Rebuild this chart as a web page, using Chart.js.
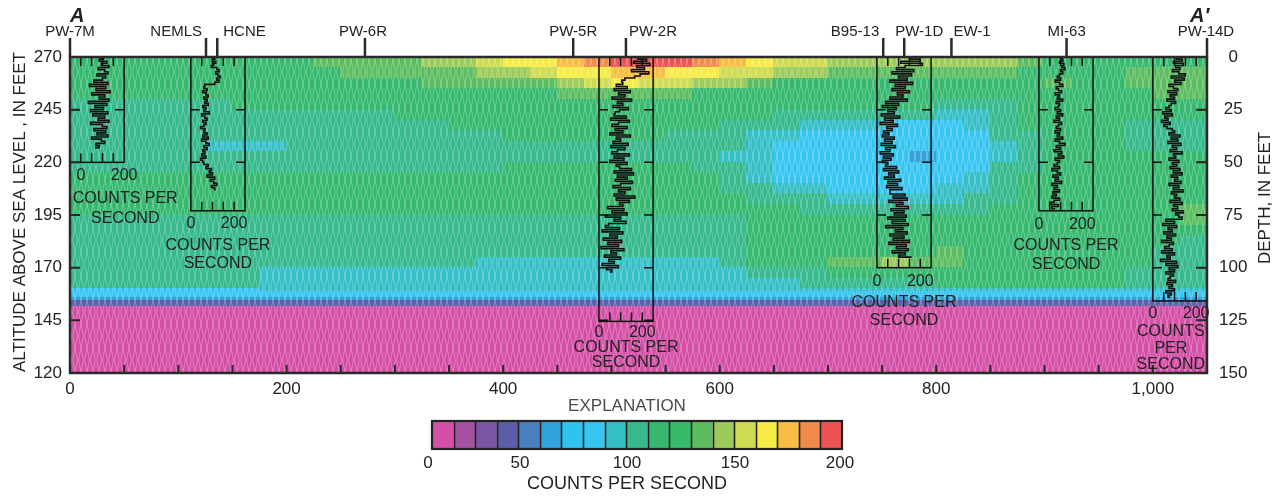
<!DOCTYPE html>
<html>
<head>
<meta charset="utf-8">
<title>Gamma-log section A–A′</title>
<script src="https://cdn.jsdelivr.net/npm/chart.js@4.4.1/dist/chart.umd.min.js"></script>
<style>
html,body{margin:0;padding:0;background:#ffffff;overflow:hidden;}
#wrap{position:relative;width:1281px;height:498px;}
canvas{display:block;}
</style>
</head>
<body>
<div id="wrap"><canvas id="chart" width="1281" height="498"></canvas></div>
<script>
// ===================== DATA =====================
// Distance along section (feet) – edges of the gridded columns
const sectionEdgesFt = [0,25,50,75,100,125,150,175,200,225,250,275,300,325,350,375,400,425,450,475,500,525,550,575,600,625,650,675,700,725,750,775,800,825,850,875,900,925,950,975,1000,1025,1050];
// Altitude (feet above sea level) – edges of gridded rows
const gridAltEdges = [270,265,260,255,250,245,240,235,230,225,220,215,210,205,200,195,190,185,180,175,170,165,160,158.5];
// Gamma counts per second in each column (top row first)
const gammaColumns = [
 [110,110,110,110,100,100,100,100,100,100,100,110,110,110,110,100,100,100,100,100,100,100,79],
 [110,110,110,110,100,100,100,100,100,100,100,110,110,110,110,100,100,100,100,100,100,100,79],
 [110,110,110,110,100,100,100,100,100,100,100,110,110,110,110,100,100,100,100,100,100,100,79],
 [110,110,110,110,100,100,100,100,100,100,100,110,110,110,110,100,100,100,100,100,100,100,79],
 [110,110,110,110,100,100,100,100,100,100,100,110,110,110,110,100,100,100,100,100,100,100,79],
 [110,110,110,110,100,100,100,100,89,100,100,110,110,110,110,100,100,100,100,100,100,100,79],
 [110,110,110,110,110,100,100,100,89,100,100,110,110,110,110,100,100,100,100,100,100,100,79],
 [110,110,110,110,110,100,100,100,89,100,100,110,110,110,110,100,100,100,100,100,89,89,89],
 [110,110,110,110,110,100,100,100,100,100,100,110,110,110,110,100,100,100,100,100,89,89,89],
 [131,110,110,110,110,100,100,100,100,100,100,110,110,110,110,100,100,100,100,100,89,89,89],
 [131,131,110,110,110,100,100,100,100,100,100,110,110,110,110,100,100,100,100,100,89,89,89],
 [131,131,110,110,110,100,100,100,100,100,100,110,110,110,110,100,100,100,100,100,89,89,89],
 [131,131,110,110,110,110,100,100,100,100,100,110,110,110,110,100,100,100,100,100,89,89,89],
 [142,131,131,110,110,110,100,100,100,100,100,110,110,110,110,100,100,100,100,100,89,89,89],
 [142,131,131,110,110,110,110,100,100,100,100,110,110,110,110,100,100,100,100,100,89,89,89],
 [152,142,131,110,110,110,110,100,100,100,100,110,110,110,110,100,100,100,100,89,89,89,89],
 [163,142,131,110,110,110,110,110,100,100,110,110,110,110,110,100,100,100,100,89,89,89,89],
 [163,152,131,110,110,110,110,110,100,100,110,110,110,110,110,100,100,100,100,89,89,89,89],
 [173,163,142,131,110,110,110,110,100,100,110,110,110,110,110,100,100,100,100,89,89,89,89],
 [184,163,152,131,110,110,110,110,100,100,110,110,110,110,110,100,100,100,100,89,89,89,89],
 [195,173,163,131,110,110,110,110,100,100,110,110,110,110,110,100,100,100,100,89,89,89,89],
 [195,173,152,131,110,110,110,110,100,100,110,110,110,110,110,100,100,100,100,89,89,89,89],
 [195,163,152,131,110,110,110,100,100,100,110,110,110,110,110,100,100,100,100,89,89,89,89],
 [184,163,142,110,110,110,110,100,100,100,100,110,110,110,110,100,100,100,100,89,89,89,89],
 [173,152,142,110,110,110,100,100,100,89,100,100,100,110,110,100,100,100,100,100,89,89,89],
 [163,152,131,110,110,110,100,89,89,89,89,89,100,100,110,110,110,110,110,110,100,89,89],
 [152,142,110,110,110,100,100,89,79,79,79,79,89,100,110,110,110,110,110,110,100,89,89],
 [152,142,110,110,110,100,89,79,79,79,79,79,89,100,100,110,110,110,110,110,100,100,89],
 [142,131,110,110,110,100,89,79,79,79,79,79,79,89,100,110,110,110,110,131,110,100,89],
 [142,131,110,110,110,100,89,79,79,79,79,79,79,89,100,110,110,110,110,131,110,100,89],
 [142,131,110,110,110,100,79,79,79,79,79,79,79,89,100,110,110,110,110,142,110,100,89],
 [142,131,110,110,110,100,79,79,79,58,79,79,79,89,100,110,110,110,110,131,110,100,89],
 [142,131,110,110,100,89,79,79,79,79,79,79,89,89,100,110,110,110,131,131,110,110,89],
 [142,131,110,110,100,89,89,79,79,79,79,89,89,100,100,110,110,110,110,110,110,110,89],
 [142,131,110,110,100,100,100,100,89,89,100,100,100,100,110,110,110,110,110,110,110,110,89],
 [131,110,110,110,110,110,110,100,100,100,100,110,110,110,110,110,110,110,110,110,110,110,89],
 [110,110,131,110,110,110,110,110,110,110,110,110,110,110,110,110,110,110,110,110,110,110,89],
 [110,110,110,110,110,110,110,110,110,110,110,110,110,110,110,110,110,110,110,110,110,110,89],
 [110,110,110,110,110,110,110,110,110,110,110,110,110,110,110,110,110,110,110,110,110,110,89],
 [110,131,131,110,110,110,100,100,100,110,110,110,110,110,110,110,110,110,110,110,100,100,89],
 [110,131,131,131,110,110,100,100,100,110,110,110,110,110,110,110,110,110,100,100,100,100,89],
 [110,131,131,131,110,110,100,100,100,110,110,110,110,110,131,131,110,100,100,100,100,100,89]
];
// Continuous basal layers (same along whole section)
const baseLayerAltEdges = [158.5, 156, 154.5, 151.5, 120];
const baseLayerCps = [79, 58, 37, 5];

// Explanation classes (19 classes spanning 0–200 counts per second)
const classColors = ['#d44fa6','#a4519f','#7b55a5','#5c5ea9','#4a7fc0','#32a3da','#30c3ef','#35c5f0','#34bfc7','#35b98d','#36b96f','#38ba6b','#5bbd5f','#9ccb5a','#cfdb51','#f7eb46','#f8bd42','#f08b4a','#ec5454'];
const cpsMax = 200;
const legendTicks = [0, 50, 100, 150, 200];

// Axes
const altTicks = [120, 145, 170, 195, 220, 245, 270];
const depthTicks = [0, 25, 50, 75, 100, 125, 150];

// Wells along the section
const wellNames = ['PW-7M','NEMLS','HCNE','PW-6R','PW-5R','PW-2R','B95-13','PW-1D','EW-1','MI-63','PW-14D'];
const wellFt = [0, 125.6, 136, 272.4, 464.7, 513.4, 751, 770.4, 814, 920.3, 1050];

// Gamma logs (counts per second, sampled every foot from the top altitude)
const logNames = ['PW-7M','NEMLS','PW-2R','PW-1D','MI-63','PW-14D'];
const logOriginFt = [10, 111.6, 488.5, 745.2, 894.8, 1000];
const logTopAlt = [270, 270, 270, 270, 270, 270];
const logStepFt = 1;
const logBottomAlt = [220, 197, 144.5, 170, 197, 154.2];
const logBoxCps = [[-50,200],[0,250],[0,250],[0,250],[0,250],[0,250]];
const logBoxTickCps = [[0,50,100,150],[50,100,150,200],[50,100,150,200],[50,100,150,200],[50,100,150,200],[50,100,150,200]];
const logScaleLabels = [0, 200];

const pw7mCps = [105,85,120,95,130,80,110,125,75,115,100,
 60,125,40,115,70,135,50,110,85,130,35,120,65,105,45,
 125,55,110,80,130,45,100,120,60,115,75,125,50,95,110,70,85,65];
const nemlsCps = [110,100,115,105,95,
 120,130,115,125,135,120,130,110,
 65,60,75,55,70,80,60,75,
 65,80,55,70,60,85,50,65,75,55,70,60,45,65,
 60,75,55,80,50,70,85,60,75,55,65,50,70,45,55,
 60,80,70,95,85,100,75,110,90,105,120,95,110,115];
const pw2rCps = [180,220,160,235,175,210,150,230,190,165,
 120,105,110,
 80,130,70,145,90,120,60,150,85,110,65,135,95,75,
 70,125,55,140,90,60,130,75,110,50,145,80,100,65,135,55,120,85,60,140,70,115,50,130,80,
 95,150,70,160,85,130,75,155,100,65,145,90,120,70,165,80,140,95,110,
 40,115,60,130,30,100,70,125,45,
 30,95,15,110,50,85,20,105,40,90,10,115,55,80,25,100,45,70,15,90,35,60,50];
const pw1dCps = [150,200,110,210,130,
 90,170,70,160,100,140,60,165,85,130,70,150,95,120,60,140,
 40,100,25,90,50,80,20,105,35,75,15,95,45,70,30,
 55,25,80,35,70,20,85,40,60,15,75,30,65,25,50,
 40,90,30,100,55,80,35,110,50,95,45,115,60,
 60,130,75,140,55,120,90,145,65,125,80,135,
 50,130,70,145,40,120,85,140,60,125,75,150,55,135,90,145,70,130,100,160];
const mi63Cps = [100,110,95,115,105,120,100,110,95,
 85,100,75,95,110,80,90,105,75,95,85,110,80,95,
 90,75,100,85,110,80,95,70,105,90,80,100,75,95,
 85,110,75,95,120,80,100,70,105,90,115,75,95,85,
 70,95,60,85,100,65,90,75,105,60,85,70,95,65,
 80,60,95,70,55,90,60,75];
const pw14dCps = [110,135,95,140,105,125,90,
 120,150,85,145,100,130,75,
 95,115,70,110,80,100,65,105,85,75,
 60,85,45,90,55,70,40,80,50,65,90,
 100,75,125,85,115,70,130,90,110,80,135,95,105,75,120,90,
 110,80,125,95,135,85,115,100,130,75,120,95,140,85,110,100,125,80,135,95,115,90,140,105,120,135,
 60,100,45,110,70,90,50,105,65,85,40,95,75,
 55,90,40,100,65,80,35,110,60,115,
 75,100,60,95,80,70,105,65,90,75,100,60,85,70,80];
const logCps = [pw7mCps, nemlsCps, pw2rCps, pw1dCps, mi63Cps, pw14dCps];

// ===================== STYLE / LAYOUT =====================
const STYLE = {
  font: "'Liberation Sans', Arial, Helvetica, sans-serif",
  ink: '#222222',
  frame: '#2a2a2a',
  logInk: '#111111',
  ftPerCps: 0.2,   // width of log boxes: 250 counts per second = 50 ft
  wellLabel: [
    {align:'center',dx:0},{align:'right',dx:-4},{align:'left',dx:6},{align:'center',dx:-2},
    {align:'center',dx:0},{align:'left',dx:3},{align:'right',dx:-4},{align:'center',dx:15},
    {align:'left',dx:2},{align:'center',dx:0},{align:'center',dx:-1}
  ],
  boxText: [
    {centerCps:205, scaleDy:13, lines:[['COUNTS PER',36],['SECOND',56]]},
    {centerCps:125, scaleDy:13, lines:[['COUNTS PER',35],['SECOND',53]]},
    {centerCps:125, scaleDy:11, lines:[['COUNTS PER',26],['SECOND',41]]},
    {centerCps:125, scaleDy:14, lines:[['COUNTS PER',35],['SECOND',53]]},
    {centerCps:125, scaleDy:14, lines:[['COUNTS PER',35],['SECOND',54]]},
    {centerCps:83,  scaleDy:13, lines:[['COUNTS',31],['PER',48],['SECOND',64]]}
  ],
  legend: {x0:432, x1:842, y0:421, y1:449, labelX:[428,520,627,735,840], labelY:463, titleY:406, unitY:484, cx:627}
};

function colorFor(v) {
  const k = Math.max(0, Math.min(classColors.length - 1, Math.floor(v * classColors.length / cpsMax)));
  return classColors[k];
}

let hatchCanvas = null;
function hatch(ctx) {
  if (!hatchCanvas) {
    hatchCanvas = document.createElement('canvas');
    hatchCanvas.width = 6; hatchCanvas.height = 24;
    const g = hatchCanvas.getContext('2d');
    g.strokeStyle = 'rgba(255,255,255,0.30)';
    g.lineWidth = 0.9;
    g.beginPath();
    g.moveTo(0.5, 0); g.lineTo(3, 12); g.lineTo(0.5, 24);
    g.moveTo(5.5, 0); g.lineTo(3, 12); g.lineTo(5.5, 24);
    g.stroke();
  }
  return ctx.createPattern(hatchCanvas, 'repeat');
}

function text(ctx, s, x, y, size, align, opt) {
  opt = opt || {};
  ctx.font = (opt.style || 'normal') + ' ' + (opt.weight || 'normal') + ' ' + size + 'px ' + STYLE.font;
  ctx.textAlign = align || 'center';
  ctx.textBaseline = opt.baseline || 'middle';
  ctx.fillStyle = opt.color || STYLE.ink;
  ctx.fillText(s, x, y);
}

const sectionPlugin = {
  id: 'section',
  beforeDatasetsDraw(chart) {
    const {ctx, chartArea: a} = chart;
    const xs = chart.scales.x, ys = chart.scales.y;
    ctx.save();
    ctx.beginPath();
    ctx.rect(a.left, a.top, a.right - a.left, a.bottom - a.top);
    ctx.clip();
    // gridded gamma field
    gammaColumns.forEach((col, i) => {
      const x0 = Math.floor(xs.getPixelForValue(sectionEdgesFt[i]));
      const x1 = Math.ceil(xs.getPixelForValue(sectionEdgesFt[i + 1]));
      col.forEach((v, j) => {
        const y0 = Math.floor(ys.getPixelForValue(gridAltEdges[j]));
        const y1 = Math.ceil(ys.getPixelForValue(gridAltEdges[j + 1]));
        ctx.fillStyle = colorFor(v);
        ctx.fillRect(x0, y0, x1 - x0 + 1, y1 - y0 + 1);
      });
    });
    // basal layers
    baseLayerCps.forEach((v, k) => {
      const y0 = Math.floor(ys.getPixelForValue(baseLayerAltEdges[k]));
      const y1 = Math.ceil(ys.getPixelForValue(baseLayerAltEdges[k + 1]));
      ctx.fillStyle = colorFor(v);
      ctx.fillRect(a.left, y0, a.right - a.left, y1 - y0 + 1);
    });
    // texture
    ctx.fillStyle = hatch(ctx);
    ctx.fillRect(a.left, a.top, a.right - a.left, a.bottom - a.top);
    ctx.restore();

    // log boxes
    ctx.save();
    ctx.strokeStyle = STYLE.logInk;
    ctx.lineWidth = 1.5;
    logNames.forEach((name, k) => {
      const xl = xs.getPixelForValue(logOriginFt[k] + logBoxCps[k][0] * STYLE.ftPerCps);
      const xr = xs.getPixelForValue(logOriginFt[k] + logBoxCps[k][1] * STYLE.ftPerCps);
      const yt = ys.getPixelForValue(logTopAlt[k]);
      const yb = ys.getPixelForValue(logBottomAlt[k]);
      ctx.strokeRect(xl, yt, xr - xl, yb - yt);
      ctx.beginPath();
      logBoxTickCps[k].forEach(c => {
        const px = xs.getPixelForValue(logOriginFt[k] + c * STYLE.ftPerCps);
        ctx.moveTo(px, yt); ctx.lineTo(px, yt + 9);
        ctx.moveTo(px, yb); ctx.lineTo(px, yb - 9);
      });
      altTicks.forEach(al => {
        if (al < logTopAlt[k] && al > logBottomAlt[k]) {
          const py = ys.getPixelForValue(al);
          ctx.moveTo(xl, py); ctx.lineTo(xl + 9, py);
          ctx.moveTo(xr, py); ctx.lineTo(xr - 9, py);
        }
      });
      ctx.stroke();
    });
    ctx.restore();
  },
  afterDatasetsDraw(chart) {
    const {ctx, chartArea: a} = chart;
    const xs = chart.scales.x, ys = chart.scales.y, yd = chart.scales.yDepth;
    ctx.save();
    // frame
    ctx.strokeStyle = STYLE.frame;
    ctx.lineWidth = 2.5;
    ctx.strokeRect(a.left, a.top, a.right - a.left, a.bottom - a.top);
    // inward ticks
    ctx.lineWidth = 2;
    ctx.beginPath();
    for (let f = 50; f < 1050; f += 50) {
      const px = xs.getPixelForValue(f);
      ctx.moveTo(px, a.bottom); ctx.lineTo(px, a.bottom - 8);
    }
    altTicks.forEach(al => {
      const py = ys.getPixelForValue(al);
      ctx.moveTo(a.left, py); ctx.lineTo(a.left + 10, py);
    });
    depthTicks.forEach(d => {
      const py = yd.getPixelForValue(d);
      ctx.moveTo(a.right, py); ctx.lineTo(a.right - 11, py);
    });
    ctx.stroke();
    // wells
    ctx.lineWidth = 2.5;
    ctx.beginPath();
    wellFt.forEach(f => {
      const px = xs.getPixelForValue(f);
      ctx.moveTo(px, a.top - 19); ctx.lineTo(px, a.top);
    });
    ctx.stroke();
    wellNames.forEach((n, i) => {
      const px = xs.getPixelForValue(wellFt[i]) + STYLE.wellLabel[i].dx;
      text(ctx, n, px, 36, 15, STYLE.wellLabel[i].align, {baseline:'alphabetic'});
    });
    text(ctx, 'A', a.left, 22, 20, 'left', {baseline:'alphabetic', weight:'bold', style:'italic'});
    text(ctx, 'A\u2032', 1190, 22, 20, 'left', {baseline:'alphabetic', weight:'bold', style:'italic'});

    // log box captions
    logNames.forEach((name, k) => {
      const yb = ys.getPixelForValue(logBottomAlt[k]);
      const st = STYLE.boxText[k];
      logScaleLabels.forEach(c => {
        text(ctx, String(c), xs.getPixelForValue(logOriginFt[k] + c * STYLE.ftPerCps), yb + st.scaleDy, 16, 'center');
      });
      const cx = xs.getPixelForValue(logOriginFt[k] + st.centerCps * STYLE.ftPerCps);
      st.lines.forEach(([s, dy]) => text(ctx, s, cx, yb + dy, 16, 'center'));
    });

    // axis titles
    ctx.save();
    ctx.translate(20, 212); ctx.rotate(-Math.PI / 2);
    text(ctx, 'ALTITUDE ABOVE SEA LEVEL , IN FEET', 0, 0, 17, 'center');
    ctx.restore();
    ctx.save();
    ctx.translate(1265, 198); ctx.rotate(-Math.PI / 2);
    text(ctx, 'DEPTH, IN FEET', 0, 0, 17, 'center');
    ctx.restore();

    // explanation (colour bar)
    const L = STYLE.legend;
    const n = classColors.length;
    const w = (L.x1 - L.x0) / n;
    classColors.forEach((c, k) => {
      ctx.fillStyle = c;
      ctx.fillRect(L.x0 + k * w, L.y0, w, L.y1 - L.y0);
    });
    ctx.strokeStyle = '#222';
    ctx.lineWidth = 1.6;
    ctx.beginPath();
    for (let k = 1; k < n; k++) {
      ctx.moveTo(Math.round(L.x0 + k * w) + 0.5, L.y0);
      ctx.lineTo(Math.round(L.x0 + k * w) + 0.5, L.y1);
    }
    ctx.stroke();
    ctx.lineWidth = 2.2;
    ctx.strokeRect(L.x0, L.y0, L.x1 - L.x0, L.y1 - L.y0);
    text(ctx, 'EXPLANATION', L.cx, L.titleY, 17, 'center', {color:'#4a4a4a'});
    legendTicks.forEach((t, i) => text(ctx, String(t), L.labelX[i], L.labelY, 17, 'center'));
    text(ctx, 'COUNTS PER SECOND', L.cx, L.unitY, 18, 'center');
    ctx.restore();
  }
};

Chart.defaults.font.family = STYLE.font;
Chart.defaults.color = STYLE.ink;

new Chart(document.getElementById('chart'), {
  type: 'scatter',
  data: {
    datasets: logNames.map((name, k) => ({
      label: name,
      data: logCps[k].map((v, i) => ({ x: logOriginFt[k] + v * STYLE.ftPerCps, y: logTopAlt[k] - i * logStepFt })),
      showLine: true,
      stepped: 'after',
      borderColor: STYLE.logInk,
      borderWidth: 1.6,
      pointRadius: 0,
      fill: false
    }))
  },
  options: {
    responsive: false,
    animation: false,
    devicePixelRatio: 1,
    events: [],
    layout: { padding: { top: 57, right: 0, bottom: 0, left: 0 } },
    plugins: { legend: { display: false }, tooltip: { enabled: false } },
    scales: {
      x: {
        type: 'linear', position: 'bottom', min: 0, max: 1050,
        grid: { display: false, drawTicks: false }, border: { display: false },
        ticks: { stepSize: 200, includeBounds: false, autoSkip: false, maxRotation: 0, padding: 6, font: { size: 17 }, color: STYLE.ink },
        afterFit(s) { s.height = 125; }
      },
      y: {
        type: 'linear', position: 'left', min: 120, max: 270,
        grid: { display: false, drawTicks: false }, border: { display: false },
        ticks: { stepSize: 25, padding: 8, font: { size: 17 }, color: STYLE.ink },
        afterFit(s) { s.width = 70; }
      },
      yDepth: {
        type: 'linear', position: 'right', min: 0, max: 150, reverse: true,
        grid: { display: false, drawTicks: false }, border: { display: false },
        ticks: { stepSize: 25, padding: 12, crossAlign: 'center', font: { size: 17 }, color: STYLE.ink },
        afterFit(s) { s.width = 74; }
      }
    }
  },
  plugins: [sectionPlugin]
});
</script>
</body>
</html>
